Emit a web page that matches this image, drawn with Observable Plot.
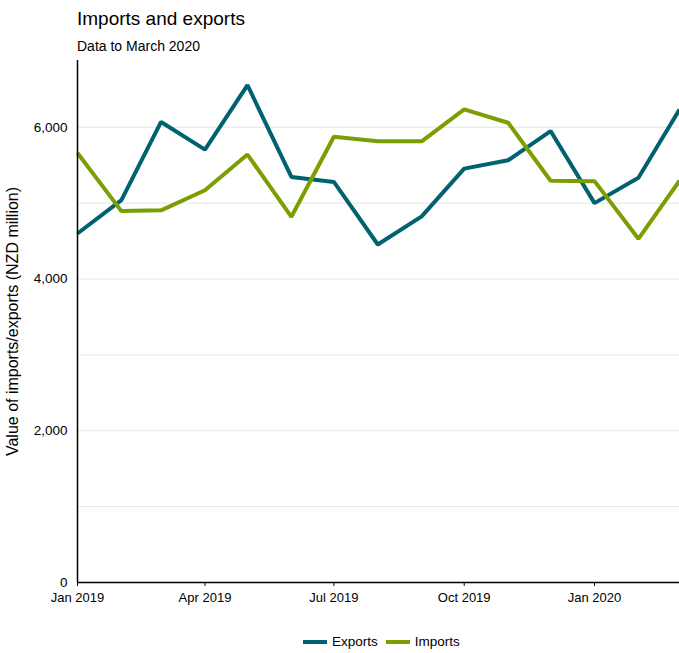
<!DOCTYPE html>
<html><head><meta charset="utf-8">
<script src="https://cdn.jsdelivr.net/npm/d3@7"></script>
<script src="https://cdn.jsdelivr.net/npm/@observablehq/plot@0.6"></script>
<style>
body{margin:0;font-family:"Liberation Sans",Arial,sans-serif;background:#fff;width:679px;height:653px;position:relative;overflow:hidden;color:#000}
#title{position:absolute;left:77px;top:7px;font-size:19px;line-height:24px;white-space:nowrap}
#subtitle{position:absolute;left:77px;top:37px;font-size:14px;line-height:18px;white-space:nowrap}
#chart{position:absolute;left:0;top:56px}
#legend{position:absolute;left:303px;top:634px;font-size:13.5px;line-height:16px;display:flex;align-items:center;white-space:nowrap}
#legend .sw{display:inline-block;width:24px;height:4px;margin-right:5px}
#legend .it{display:flex;align-items:center;margin-right:8px}
svg [aria-label="y-axis label"] text{font-size:16px}
</style>
</head><body>
<div id="title">Imports and exports</div>
<div id="subtitle">Data to March 2020</div>
<div id="chart"></div>
<div id="legend"></div>
<script>
const months = ["2019-01","2019-02","2019-03","2019-04","2019-05","2019-06","2019-07","2019-08","2019-09","2019-10","2019-11","2019-12","2020-01","2020-02","2020-03"];
const exportsVals = [4600,5040,6070,5705,6555,5345,5280,4455,4825,5455,5565,5950,5000,5335,6235];
const importsVals = [5660,4895,4905,5170,5640,4820,5875,5815,5815,6235,6060,5295,5290,4530,5295];
const seriesNames = ["Exports","Imports"];
const seriesColors = ["#00616f","#7b9e00"];
const xTicks = ["2019-01","2019-04","2019-07","2019-10","2020-01"];
const yTickLabels = [0,2000,4000,6000];
const yGrid = [1000,2000,3000,4000,5000,6000];
const yLabel = "Value of imports/exports (NZD million)";

const parse = d3.utcParse("%Y-%m");
const data = [];
months.forEach((m,i)=>{
  data.push({date: parse(m), value: exportsVals[i], series: seriesNames[0]});
  data.push({date: parse(m), value: importsVals[i], series: seriesNames[1]});
});
const xTickDates = xTicks.map(parse);

const chart = Plot.plot({
  width: 679,
  height: 560,
  marginLeft: 77,
  marginRight: 0,
  marginTop: 4,
  marginBottom: 34,
  style: {fontFamily: '"Liberation Sans", Arial, sans-serif', fontSize: "13px", color: "#000", background: "#fff"},
  x: {type: "utc", domain: [parse(months[0]), parse(months[months.length-1])]},
  y: {domain: [0, 6880]},
  color: {domain: seriesNames, range: seriesColors},
  marks: [
    Plot.ruleY(yGrid, {stroke: "#e6e6e6", strokeWidth: 1}),
    Plot.axisY({ticks: yTickLabels, tickSize: 0, tickPadding: 10, tickFormat: d3.format(","), label: yLabel, labelAnchor: "center", labelArrow: "none", labelOffset: 71, fontSize: 13.5}),
    Plot.axisX({ticks: xTickDates, tickSize: 4, tickPadding: 6, tickFormat: d3.utcFormat("%b %Y"), label: null, fontSize: 13}),
    Plot.line(data, {x: "date", y: "value", z: "series", stroke: "series", strokeWidth: 4, strokeLinejoin: "miter", strokeLinecap: "butt"}),
    Plot.ruleX([parse(months[0])], {stroke: "#000", strokeWidth: 1.5}),
    Plot.ruleY([0], {stroke: "#000", strokeWidth: 1.5})
  ]
});
document.getElementById("chart").appendChild(chart);

const legend = document.getElementById("legend");
seriesNames.forEach((s,i)=>{
  const it = document.createElement("span");
  it.className = "it";
  const sw = document.createElement("span");
  sw.className = "sw";
  sw.style.background = seriesColors[i];
  it.appendChild(sw);
  it.appendChild(document.createTextNode(s));
  legend.appendChild(it);
});
</script>
</body></html>
